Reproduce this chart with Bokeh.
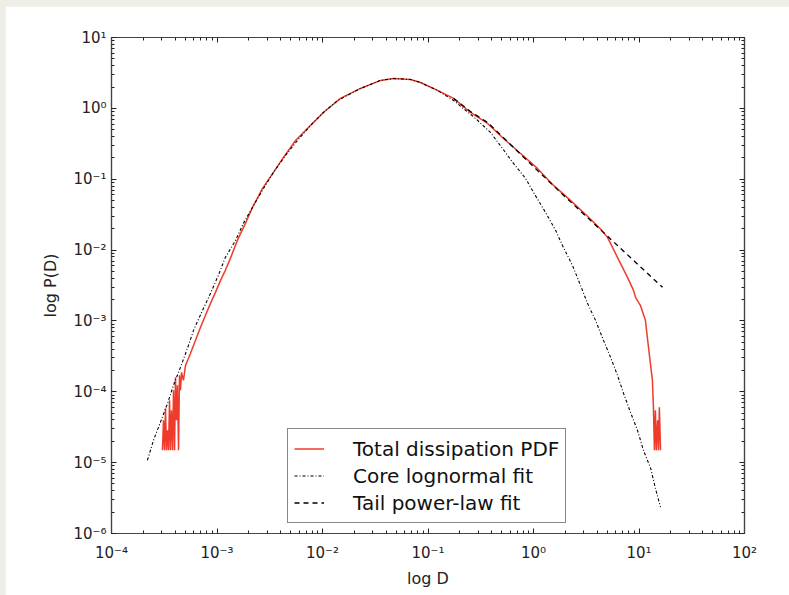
from bokeh.plotting import figure
from bokeh.models import LogAxis, FixedTicker, Legend, CustomJSTickFormatter
from bokeh.embed import file_html
from bokeh.resources import INLINE

# ---------------- data ----------------
pdf_D = [3.04e-4, 3.11e-4, 3.18e-4, 3.25e-4, 3.32e-4, 3.40e-4, 3.47e-4, 3.55e-4,
         3.62e-4, 3.70e-4, 3.79e-4, 3.87e-4, 3.96e-4, 4.04e-4, 4.13e-4, 4.22e-4,
         4.32e-4, 4.41e-4, 4.51e-4, 4.61e-4, 4.81e-4, 5.03e-4, 5.37e-4, 5.61e-4,
         6.26e-4, 6.98e-4, 7.78e-4, 8.68e-4, 9.67e-4, 1.08e-3, 1.20e-3, 1.34e-3,
         1.56e-3, 1.86e-3, 2.17e-3, 2.70e-3, 3.43e-3, 4.27e-3, 5.55e-3, 7.36e-3,
         1.02e-2, 1.48e-2, 2.29e-2, 3.55e-2, 4.71e-2, 6.82e-2, 8.49e-2, 0.123,
         0.175, 0.253, 0.367, 0.520, 0.753, 1.09, 1.55, 2.24, 3.25, 4.32, 5.03,
         6.25, 7.78, 8.87, 9.27, 10.3, 11.5, 12.3, 13.4, 13.7, 14.0, 14.3, 14.6,
         15.0, 15.3, 15.6, 16.0]
pdf_P = [1.5e-5, 3.96e-5, 1.5e-5, 5.85e-5, 1.5e-5, 2.86e-5, 1.5e-5, 7.59e-5,
         1.5e-5, 5.48e-5, 1.5e-5, 1.05e-4, 1.5e-5, 1.6e-4, 3.96e-5, 1.24e-4,
         1.5e-5, 1.71e-4, 1.05e-4, 1.88e-4, 1.45e-4, 2.36e-4, 2.97e-4, 3.49e-4,
         5.32e-4, 8.12e-4, 1.20e-3, 1.77e-3, 2.53e-3, 3.74e-3, 5.18e-3, 7.64e-3,
         0.0137, 0.0238, 0.040, 0.0741, 0.125, 0.203, 0.352, 0.538,
         0.875, 1.38, 1.91, 2.48, 2.64, 2.56, 2.32, 1.79,
         1.38, 0.875, 0.612, 0.376, 0.231, 0.142, 0.0818, 0.0502, 0.030, 0.0198, 0.0151,
         0.00789, 0.00412, 0.00270, 0.00215, 0.00166, 0.00102, 4.25e-4, 1.45e-4, 6.04e-5,
         1.5e-5, 5.48e-5, 1.5e-5, 3.96e-5, 1.5e-5, 6.04e-5, 1.5e-5]

core_D = [2.19e-4, 2.50e-4, 2.91e-4, 3.40e-4, 3.87e-4, 4.51e-4, 5.25e-4, 5.99e-4,
          7.29e-4, 8.68e-4, 1.03e-3, 1.20e-3, 1.50e-3, 1.78e-3, 2.22e-3, 2.76e-3,
          3.43e-3, 4.46e-3, 5.79e-3, 7.69e-3, 1.02e-2, 1.39e-2, 2.29e-2, 3.55e-2,
          4.71e-2, 6.82e-2, 8.49e-2, 0.123, 0.175, 0.282, 0.391, 0.508, 0.646,
          0.840, 1.04, 1.30, 1.62, 1.92, 2.34, 2.79, 3.25, 3.87, 4.61, 5.37, 6.25,
          7.13, 8.30, 9.68, 11.0, 12.9, 14.3, 16.0]
core_P = [1.08e-5, 2.07e-5, 3.72e-5, 6.89e-5, 1.24e-4, 2.22e-4, 4.11e-4, 7.36e-4,
          1.41e-3, 2.45e-3, 4.40e-3, 7.89e-3, 0.0137, 0.0238, 0.0427, 0.0741,
          0.125, 0.217, 0.352, 0.574, 0.875, 1.29, 1.91, 2.48,
          2.64, 2.56, 2.32, 1.79, 1.29, 0.721, 0.457, 0.272, 0.167,
          0.103, 0.0591, 0.0340, 0.0190, 0.0109, 6.08e-3, 3.18e-3, 1.77e-3, 1.02e-3, 5.32e-4, 3.07e-4, 1.71e-4,
          9.53e-5, 5.14e-5, 2.86e-5, 1.50e-5, 8.34e-6, 4.36e-6, 2.35e-6]

tail_D = [0.175, 0.253, 0.367, 1.80, 16.7]
tail_P = [1.38, 0.90, 0.632, 0.0651, 0.00298]

x_ticks = [1e-4, 1e-3, 1e-2, 1e-1, 1e0, 1e1, 1e2]
x_tick_labels = ["10\u207b\u2074", "10\u207b\u00b3", "10\u207b\u00b2", "10\u207b\u00b9",
                 "10\u2070", "10\u00b9", "10\u00b2"]
y_ticks = [1e-6, 1e-5, 1e-4, 1e-3, 1e-2, 1e-1, 1e0, 1e1]
y_tick_labels = ["10\u207b\u2076", "10\u207b\u2075", "10\u207b\u2074", "10\u207b\u00b3",
                 "10\u207b\u00b2", "10\u207b\u00b9", "10\u2070", "10\u00b9"]

series_labels = ["Total dissipation PDF", "Core lognormal fit", "Tail power-law fit"]

# ---------------- styling ----------------
RED = "#ee3b2b"
AXC = "#444444"
FONT = "DejaVu Sans"

x_minor = [m * t for t in x_ticks[:-1] for m in range(2, 10)]
y_minor = [m * t for t in y_ticks[:-1] for m in range(2, 10)]

p = figure(x_axis_type="log", y_axis_type="log",
           x_range=(1e-4, 1e2), y_range=(1e-6, 1e1),
           frame_width=633, frame_height=496,
           min_border_left=106, min_border_right=50,
           min_border_top=31, min_border_bottom=63,
           output_backend="svg", toolbar_location=None,
           margin=(6, 0, 0, 5))
p.background_fill_color = "white"
p.border_fill_color = "white"
p.outline_line_color = AXC
p.outline_line_width = 1.2
p.xgrid.visible = False
p.ygrid.visible = False

xt = FixedTicker(ticks=x_ticks, minor_ticks=x_minor)
yt = FixedTicker(ticks=y_ticks, minor_ticks=y_minor)
blank = CustomJSTickFormatter(code="return '';")

top_ax = LogAxis(ticker=xt, formatter=blank)
right_ax = LogAxis(ticker=yt, formatter=blank)
p.add_layout(top_ax, "above")
p.add_layout(right_ax, "right")

for ax in list(p.xaxis) + list(p.yaxis):
    ax.axis_line_color = AXC
    ax.axis_line_width = 1.2
    ax.major_tick_line_color = "#222222"
    ax.minor_tick_line_color = "#222222"
    ax.major_tick_in = 5
    ax.major_tick_out = 0
    ax.minor_tick_in = 3
    ax.minor_tick_out = 0
    ax.major_label_text_font = FONT
    ax.major_label_text_font_size = "15px"
    ax.major_label_text_color = "#222222"
    ax.axis_label_text_font = FONT
    ax.axis_label_text_font_size = "16px"
    ax.axis_label_text_font_style = "normal"
    ax.axis_label_text_color = "#222222"

bx = p.below[0]
bx.ticker = xt
bx.major_label_overrides = dict(zip(x_ticks, x_tick_labels))
bx.major_label_standoff = 10
bx.axis_label = "log D"
bx.axis_label_standoff = 4

ly = p.left[0]
ly.ticker = yt
ly.major_label_overrides = dict(zip(y_ticks, y_tick_labels))
ly.major_label_standoff = 5
ly.axis_label = "log P(D)"
ly.axis_label_standoff = 10

r1 = p.line(pdf_D, pdf_P, line_color=RED, line_width=1.5)
r2 = p.line(core_D, core_P, line_color="black", line_width=1.1, line_dash="3 2 1 2")
r3 = p.line(tail_D, tail_P, line_color="black", line_width=1.3, line_dash="5 4")

legend = Legend(items=[(series_labels[0], [r1]), (series_labels[1], [r2]),
                       (series_labels[2], [r3])],
                location=(176, 10))
legend.label_text_font = FONT
legend.label_text_font_size = "20px"
legend.label_text_color = "#111111"
legend.glyph_width = 30
legend.glyph_height = 27
legend.label_height = 27
legend.label_standoff = 29
legend.spacing = 0
legend.padding = 6
legend.margin = 0
legend.border_line_color = "#111111"
legend.border_line_width = 1.2
legend.background_fill_color = "white"
legend.background_fill_alpha = 1.0
p.add_layout(legend)

html = file_html(p, INLINE)
html = html.replace("</head>",
                    "<style>html,body{margin:0;padding:0;background:#efeee6;}</style></head>", 1)
open("out.html", "w").write(html)
